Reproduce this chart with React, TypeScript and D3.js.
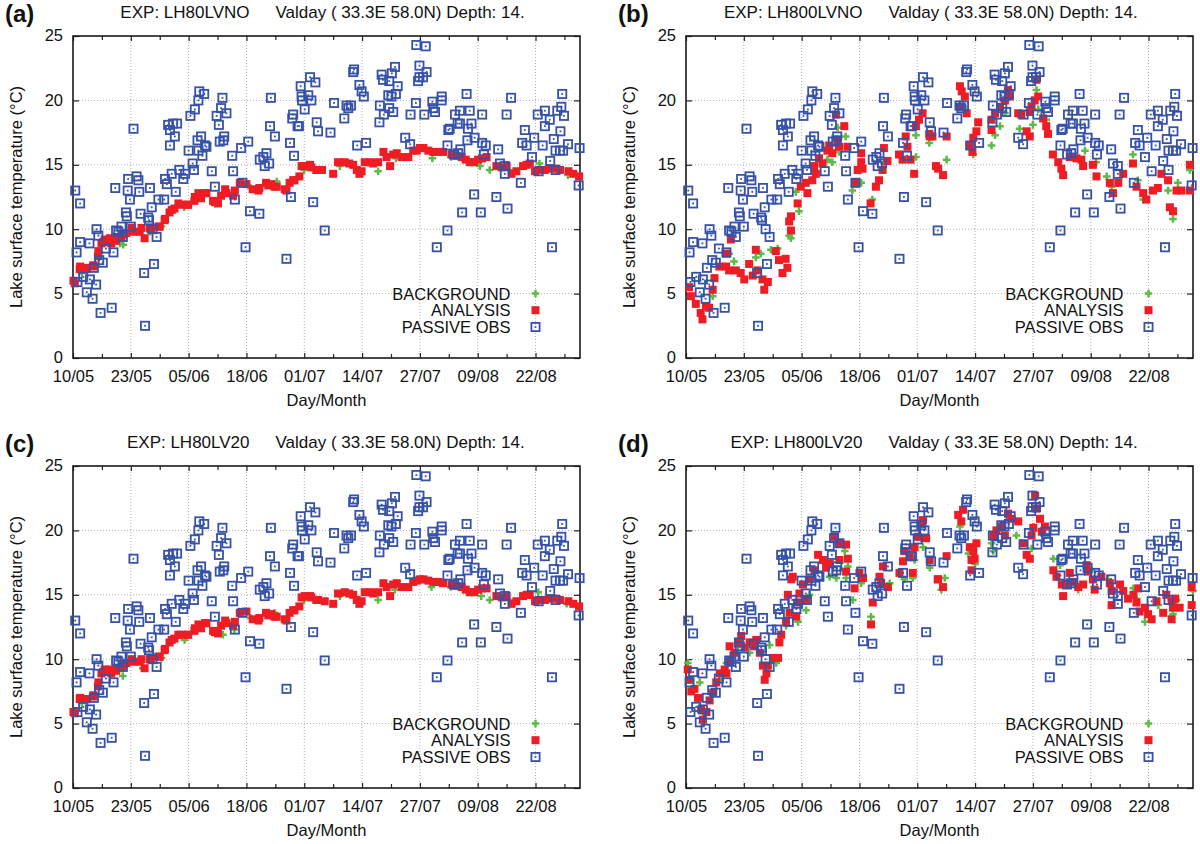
import { useEffect, useRef } from "react";
import * as d3 from "d3";

type T_Point = [number, number]; // [days after 10/05, lake surface temperature °C]

const xTickLabels = ["10/05", "23/05", "05/06", "18/06", "01/07", "14/07", "27/07", "09/08", "22/08"];
const xDomainLabels = ["10/05", "01/09"];
const yTicks = [0, 5, 10, 15, 20, 25];
const legendLabels = ["BACKGROUND", "ANALYSIS", "PASSIVE OBS"];

// passive observations (same in all four experiments)
const passiveObs: T_Point[] = [
  [0.5, 13.0], [1.6, 12.0], [13.6, 17.8], [0.8, 8.2], [1.6, 9.0], [3.7, 8.9], [5.3, 10.0], [5.7, 9.5],
  [1.0, 5.9], [2.3, 6.3], [3.8, 6.1], [5.2, 5.7], [3.1, 5.1], [4.4, 4.6], [6.2, 3.5], [8.7, 3.9],
  [4.7, 7.0], [5.9, 7.6], [6.7, 7.4], [7.4, 8.5], [9.1, 8.2], [9.7, 9.9], [10.2, 9.8], [10.9, 10.2],
  [11.2, 9.4], [13.0, 10.2], [16.0, 6.6], [18.2, 7.3], [16.2, 2.5], [17.9, 10.0], [18.8, 9.4], [17.1, 10.7],
  [16.9, 10.9], [15.2, 11.2], [11.9, 11.3], [12.1, 11.0], [9.5, 13.2], [12.3, 13.0], [12.8, 12.3], [12.4, 13.9],
  [14.3, 14.1], [14.7, 13.8], [14.9, 12.9], [17.3, 13.2], [17.7, 11.7], [19.2, 12.3], [20.5, 12.3], [20.7, 13.9],
  [21.1, 13.5], [22.2, 14.3], [23.1, 12.9], [23.9, 14.6], [25.2, 14.3], [24.8, 13.9], [21.8, 16.5], [22.9, 17.2],
  [21.8, 17.7], [21.4, 18.1], [22.5, 18.2], [23.4, 18.2], [26.0, 16.1], [26.9, 15.1], [27.2, 14.6], [26.4, 18.8],
  [27.4, 19.3], [28.2, 20.0], [28.4, 20.7], [28.0, 16.9], [28.2, 16.1],
  [29.5, 20.5], [33.6, 20.2], [33.3, 19.4], [34.5, 19.0], [32.3, 18.8], [32.8, 18.1], [34.0, 17.2], [33.8, 16.9],
  [33.0, 16.8], [28.8, 17.2], [29.7, 16.5], [30.0, 16.4], [29.1, 15.7], [31.2, 14.5], [31.9, 13.3], [36.0, 14.5],
  [35.8, 15.7], [37.8, 16.3], [39.4, 16.8], [44.5, 20.2], [44.3, 18.0], [45.4, 17.2], [42.0, 15.4], [42.8, 15.6],
  [43.5, 15.9], [43.1, 14.9], [44.1, 15.1], [38.1, 13.6], [36.4, 12.3], [39.8, 11.4], [41.9, 11.2], [38.8, 8.6],
  [48.0, 7.7], [49.0, 12.5], [54.0, 12.1], [56.6, 9.9], [48.8, 16.7], [49.7, 15.7], [49.5, 18.9], [49.3, 18.6],
  [50.5, 18.0], [50.8, 18.0], [51.4, 20.3], [52.1, 19.3], [51.5, 20.0], [52.9, 20.4], [53.6, 20.0], [53.3, 21.8],
  [54.5, 21.4], [51.2, 21.1], [54.8, 18.3], [55.1, 17.6],
  [77.2, 24.3], [79.3, 24.2], [77.9, 22.7], [79.5, 22.2], [77.9, 21.8], [78.7, 21.8], [77.6, 21.5], [63.0, 22.2],
  [63.2, 22.4], [64.4, 21.2], [64.9, 20.7], [65.4, 20.3], [69.4, 22.0], [71.7, 22.1], [72.4, 22.6], [69.7, 21.6],
  [71.1, 21.5], [73.0, 21.1], [70.9, 20.4], [71.6, 20.3], [72.6, 20.5], [58.7, 19.8], [61.5, 19.6], [61.9, 19.4],
  [62.5, 19.6], [61.0, 18.6], [57.9, 17.5], [69.0, 19.6], [71.1, 19.4], [72.0, 19.1], [69.9, 18.9], [68.9, 18.3],
  [75.9, 18.9], [77.1, 19.8], [79.0, 18.9], [80.8, 19.9], [81.0, 19.4], [81.4, 19.1], [82.9, 20.3], [82.9, 20.0],
  [63.9, 16.5], [65.9, 16.7], [74.7, 17.1], [75.8, 16.6], [84.2, 16.5], [84.4, 17.7], [84.2, 9.9], [81.8, 8.6],
  [88.5, 20.5], [87.0, 19.2], [85.9, 18.9], [89.2, 19.2], [92.0, 18.9], [97.5, 18.9], [98.5, 20.2], [87.0, 18.2],
  [86.5, 18.2], [89.6, 18.2], [84.7, 17.8], [88.8, 17.8], [88.7, 16.9], [90.3, 17.1], [92.0, 16.7], [92.8, 16.5],
  [87.1, 16.2], [85.7, 15.8], [86.6, 15.9], [92.4, 15.8], [95.6, 16.2], [96.0, 15.1], [97.1, 14.9], [97.1, 14.3],
  [100.7, 13.6], [90.2, 12.7], [95.2, 12.5], [97.7, 11.6], [87.5, 11.3], [91.7, 11.3], [104.5, 18.9], [106.1, 19.2],
  [107.2, 18.5], [106.1, 18.0], [101.6, 17.7], [101.0, 16.7], [102.0, 16.5], [103.7, 17.1], [105.6, 16.5], [103.2, 15.6],
  [108.9, 19.2], [109.8, 19.5], [110.4, 18.8], [110.0, 20.5], [109.6, 17.6], [108.1, 17.0], [108.5, 16.1], [109.5, 16.1],
  [110.2, 16.1], [111.3, 16.6], [113.9, 16.3], [107.3, 15.3], [104.7, 14.5], [108.5, 14.6], [113.7, 13.4], [107.7, 8.6],
];

// (a) LH80LVNO
const analysisA: T_Point[] = [
  [0.1, 6.0], [0.4, 5.8], [1.5, 6.9], [1.6, 7.1], [3.0, 6.9], [3.1, 7.0], [4.5, 7.1], [4.6, 7.2], [5.6, 7.9],
  [5.7, 8.3], [6.4, 8.9], [6.8, 9.0], [7.1, 9.2], [8.3, 9.3], [8.6, 8.9], [9.7, 9.1], [9.8, 9.4], [10.9, 9.4],
  [11.3, 9.6], [12.0, 9.7], [13.2, 10.1], [13.5, 9.8], [15.0, 9.8], [15.4, 10.1], [16.1, 9.3], [17.3, 10.1],
  [17.6, 10.0], [19.2, 10.2], [19.5, 10.2], [20.6, 10.7], [20.7, 10.8], [21.7, 11.3], [22.2, 11.5], [22.8, 11.6],
  [23.7, 12.0], [24.3, 11.9], [25.8, 11.9], [25.9, 11.9], [27.3, 12.2], [27.4, 12.5], [28.2, 12.8], [28.8, 12.4],
  [29.7, 12.8], [30.0, 12.8], [31.5, 12.2], [31.9, 12.1], [32.6, 12.0], [33.3, 12.6], [34.2, 13.1], [34.5, 12.8],
  [36.0, 12.6], [36.4, 13.0], [37.5, 13.6], [39.0, 13.5], [40.4, 13.1], [41.7, 13.0], [41.9, 13.2], [43.4, 13.6],
  [43.9, 13.4], [44.6, 13.5], [45.3, 13.3], [45.8, 13.3], [47.6, 13.1], [48.0, 13.0], [48.7, 13.6], [49.5, 13.8],
  [49.8, 13.8], [50.9, 14.1], [51.4, 14.9], [52.1, 14.9], [53.3, 15.0], [53.6, 14.8], [54.7, 14.6], [55.1, 14.6],
  [56.0, 14.6], [58.5, 14.3], [59.6, 15.2], [61.1, 15.2], [62.1, 15.1], [63.0, 15.0], [63.8, 14.6], [64.4, 14.3],
  [64.9, 14.5], [65.6, 15.2], [66.8, 15.2], [67.5, 15.1], [68.6, 15.2], [69.8, 16.0], [70.5, 15.6], [71.3, 14.9],
  [72.0, 15.8], [72.8, 15.9], [73.9, 15.6], [75.4, 15.6], [76.5, 16.1], [77.3, 16.1], [78.0, 16.3], [78.8, 16.3],
  [79.9, 16.1], [81.0, 16.0], [82.1, 16.0], [83.2, 16.0], [85.1, 15.8], [86.2, 15.7], [87.4, 15.6], [88.3, 15.4],
  [89.2, 15.2], [90.2, 15.2], [91.1, 15.4], [92.0, 15.5], [93.0, 15.6], [95.2, 14.9], [96.4, 14.8], [97.5, 14.9],
  [98.6, 14.3], [99.7, 14.5], [101.2, 14.9], [102.0, 15.0], [102.7, 15.1], [103.9, 14.5], [105.0, 14.6], [106.1, 14.6],
  [107.2, 14.7], [108.4, 14.7], [109.5, 14.6], [111.4, 14.5], [112.5, 14.3], [113.8, 14.1],
];
const backgroundA: T_Point[] = [
  [2.0, 6.6], [6.0, 8.2], [10.6, 8.9], [11.3, 8.8], [17.3, 9.8], [19.9, 10.2], [25.0, 11.7], [33.0, 12.4],
  [40.0, 13.2], [45.8, 13.7], [52.0, 14.6], [60.0, 14.9], [68.6, 14.5], [72.6, 15.5], [80.8, 15.5], [85.0, 15.6],
  [91.5, 14.9], [93.7, 14.6], [98.0, 14.6], [104.9, 15.1], [111.3, 14.2],
];

// (b) LH800LVNO
const analysisB: T_Point[] = [
  [0.7, 5.5], [1.1, 4.8], [2.2, 4.2], [3.3, 3.5], [3.7, 3.0], [4.5, 4.0], [5.2, 3.9], [6.0, 5.3], [6.4, 6.2],
  [7.5, 7.1], [9.0, 7.1], [9.0, 8.1], [10.1, 9.2], [9.7, 6.8], [11.2, 6.8], [12.3, 6.6], [13.1, 6.1], [14.2, 7.3],
  [15.0, 6.4], [15.7, 8.4], [16.1, 6.8], [17.2, 6.1], [17.6, 5.3], [18.4, 5.9], [20.2, 8.3], [20.9, 7.6],
  [21.7, 6.6], [22.4, 7.7], [22.8, 7.0], [23.2, 10.6], [23.6, 9.9], [23.6, 11.0], [25.1, 12.0], [25.8, 13.3],
  [26.9, 13.6], [27.3, 12.8], [28.4, 13.8], [29.2, 14.3], [28.8, 14.9], [29.9, 15.5], [30.7, 15.1], [31.8, 16.1],
  [32.2, 16.5], [32.9, 15.9], [34.1, 16.9], [34.4, 16.4], [33.7, 18.9], [35.6, 18.0], [36.3, 16.4], [38.2, 13.6],
  [38.6, 14.6], [39.4, 15.2], [39.4, 15.9], [39.7, 14.7], [41.5, 12.0], [42.7, 13.3], [43.4, 13.8], [44.2, 14.6],
  [44.5, 16.3], [45.3, 15.3], [47.9, 15.8], [48.7, 15.4], [49.4, 17.2], [49.8, 16.4], [50.5, 15.4], [51.3, 14.3],
  [51.7, 18.0], [52.4, 18.5], [53.2, 19.0], [54.7, 17.4], [55.4, 17.2], [56.2, 14.9],
  [54.8, 17.2], [58.6, 17.2], [56.7, 14.7], [57.8, 14.2], [61.6, 21.1], [62.0, 20.7], [62.7, 20.3], [61.6, 19.5],
  [63.1, 19.0], [65.7, 18.3], [65.3, 17.6], [64.6, 17.1], [63.8, 16.5], [64.4, 16.0], [68.7, 18.5], [68.7, 17.7],
  [69.5, 19.0], [70.6, 19.5], [71.7, 20.0], [72.4, 20.8], [72.8, 20.3], [74.7, 19.0], [75.4, 18.9], [76.6, 17.6],
  [77.3, 17.2], [77.3, 19.1], [77.7, 19.5], [78.4, 20.0], [79.2, 20.3], [78.8, 21.6], [80.3, 18.6], [81.0, 18.0],
  [81.4, 17.4], [82.5, 15.8], [83.7, 15.2], [84.4, 14.7], [84.8, 14.2], [86.3, 15.6], [87.8, 15.5], [88.9, 15.4],
  [89.3, 14.9], [91.5, 15.0], [92.3, 14.1], [95.3, 13.6], [96.0, 12.8], [97.2, 13.6], [98.3, 14.3], [100.5, 15.1],
  [101.3, 13.3], [102.8, 12.8], [103.5, 12.3], [105.0, 13.0], [106.1, 13.2], [106.9, 14.3], [108.4, 13.8],
  [108.8, 11.7], [109.5, 11.4], [110.3, 13.0], [111.4, 13.0], [113.3, 15.0], [113.3, 13.0],
];
const backgroundB: T_Point[] = [
  [6.0, 4.8], [9.7, 8.1], [10.8, 7.5], [15.7, 7.8], [16.8, 8.1], [19.1, 8.4], [20.6, 8.5], [23.2, 9.5],
  [23.6, 9.3], [24.7, 12.9], [25.4, 11.4], [31.8, 15.4], [32.9, 15.2], [34.1, 17.9], [34.4, 16.0], [35.9, 17.2],
  [37.4, 13.0], [39.4, 13.6], [41.9, 12.3], [44.5, 15.1], [51.7, 15.6], [51.7, 17.3], [54.7, 16.7],
  [58.6, 15.4], [62.3, 19.5], [64.6, 15.8], [68.7, 16.5], [69.5, 17.3], [70.6, 18.0], [71.7, 19.0], [75.0, 17.8],
  [78.0, 18.1], [78.8, 20.8], [79.2, 19.3], [81.0, 18.5], [89.7, 16.1], [92.2, 15.2], [94.6, 14.1], [95.7, 13.3],
  [100.5, 15.8], [101.6, 13.8], [102.8, 12.3], [108.4, 13.0], [109.5, 10.8], [110.6, 13.6], [113.3, 14.6],
];

// (c) LH80LV20
const analysisC: T_Point[] = [
  [0.1, 5.9], [0.4, 5.8], [1.5, 6.9], [1.6, 7.0], [3.0, 6.9], [3.1, 6.9], [4.5, 7.1], [4.6, 7.2], [5.6, 7.9],
  [5.7, 8.2], [6.4, 8.9], [6.8, 9.0], [7.1, 9.2], [8.3, 9.2], [8.6, 8.9], [9.7, 9.1], [9.8, 9.3], [10.9, 9.4],
  [11.3, 9.5], [12.0, 9.7], [13.2, 10.0], [13.5, 9.8], [15.0, 9.8], [15.4, 10.0], [16.1, 9.3], [17.3, 10.0],
  [17.6, 10.0], [19.2, 10.2], [19.5, 10.2], [20.6, 10.7], [20.7, 10.8], [21.7, 11.3], [22.2, 11.5], [22.8, 11.6],
  [23.7, 11.9], [24.3, 11.9], [25.8, 11.9], [25.9, 11.9], [27.3, 12.2], [27.4, 12.4], [28.2, 12.7], [28.8, 12.4],
  [29.7, 12.8], [30.0, 12.8], [31.5, 12.2], [31.9, 12.1], [32.6, 12.0], [33.3, 12.6], [34.2, 13.0], [34.5, 12.8],
  [36.0, 12.6], [36.4, 12.9], [37.5, 13.6], [39.0, 13.7], [40.4, 13.1], [41.7, 13.0], [41.9, 13.2], [43.4, 13.6],
  [43.9, 13.4], [44.6, 13.5], [45.3, 13.3], [45.8, 13.3], [47.6, 13.1], [48.0, 13.0], [48.7, 13.6], [49.5, 13.8],
  [49.8, 13.8], [50.9, 14.1], [51.4, 14.8], [52.1, 14.9], [53.3, 14.9], [53.6, 14.8], [54.7, 14.6], [55.1, 14.6],
  [56.6, 14.5], [58.5, 14.3], [59.6, 15.1], [61.1, 15.2], [62.1, 15.1], [63.0, 15.0], [63.8, 14.6], [64.4, 14.3],
  [64.9, 14.5], [65.6, 15.2], [66.8, 15.2], [67.5, 15.1], [68.6, 15.2], [69.8, 15.9], [70.5, 15.6], [71.3, 14.9],
  [72.0, 15.8], [72.8, 15.9], [73.9, 15.6], [75.4, 15.6], [76.5, 16.0], [77.3, 16.1], [78.0, 16.2], [78.8, 16.2],
  [79.9, 16.1], [81.0, 16.0], [82.1, 16.0], [83.2, 15.9], [85.1, 15.8], [86.2, 15.7], [87.4, 15.6], [88.3, 15.4],
  [89.2, 15.2], [90.2, 15.2], [91.1, 15.4], [92.0, 15.5], [93.0, 15.5], [95.2, 14.9], [96.4, 14.8], [97.5, 14.9],
  [98.6, 14.3], [99.7, 14.5], [101.2, 14.9], [102.0, 15.0], [102.7, 15.0], [103.9, 14.5], [105.0, 14.6], [106.1, 14.6],
  [107.2, 14.7], [108.4, 14.7], [109.5, 14.6], [111.4, 14.5], [112.5, 14.3], [113.8, 14.1],
];
const backgroundC: T_Point[] = [
  [2.0, 6.6], [6.0, 8.2], [11.2, 8.7], [15.7, 9.3], [19.9, 10.1], [25.1, 11.5], [33.7, 11.9], [36.3, 12.3],
  [40.0, 13.2], [45.3, 13.6], [52.0, 14.6], [60.0, 14.9], [68.6, 14.6], [72.4, 15.4], [80.6, 15.6], [85.0, 15.6],
  [91.8, 14.9], [93.7, 14.6], [98.0, 14.6], [104.6, 15.2], [111.0, 14.3],
];

// (d) LH800LV20
const analysisD: T_Point[] = [
  [0.4, 9.2], [0.8, 8.4], [1.2, 7.5], [1.9, 7.7], [2.7, 7.0], [3.4, 6.1], [3.8, 5.3], [4.6, 5.9], [5.3, 6.8],
  [6.1, 7.4], [6.8, 8.2], [7.6, 8.9], [8.7, 9.2], [9.1, 8.9], [9.8, 11.0], [9.8, 9.8], [10.9, 10.5], [11.7, 11.3],
  [12.4, 11.8], [13.2, 10.9], [14.3, 11.3], [15.4, 11.0], [15.8, 11.5], [16.6, 10.5], [17.3, 9.5], [17.7, 8.4],
  [18.1, 8.9], [18.4, 9.5], [19.6, 10.1], [20.7, 10.1], [21.0, 11.3], [21.4, 11.9], [22.5, 12.9], [23.3, 13.6],
  [22.9, 15.0], [23.7, 16.2], [24.0, 16.4], [24.8, 13.3], [25.2, 14.4], [25.5, 15.1], [26.3, 15.8], [27.0, 14.6],
  [27.8, 16.2], [28.9, 16.9], [29.7, 18.1], [30.8, 17.7], [31.5, 17.1], [32.3, 17.4], [33.4, 19.5], [34.5, 17.7],
  [34.5, 19.0], [36.0, 18.9], [36.4, 17.8], [36.0, 16.8], [37.9, 15.5], [39.0, 16.7], [39.8, 16.3], [42.0, 14.4],
  [41.6, 12.7], [43.5, 16.4], [43.9, 15.9], [44.3, 17.2], [45.4, 15.6], [48.0, 16.7], [48.8, 17.6], [49.1, 18.4],
  [50.3, 18.0], [51.0, 16.7], [51.4, 18.7], [52.1, 19.5], [52.9, 20.5], [53.3, 20.8], [53.6, 19.4], [54.0, 19.4],
  [54.8, 17.7], [56.6, 16.2], [57.8, 15.6],
  [56.7, 16.2], [58.6, 18.0], [61.2, 21.2], [62.3, 21.6], [61.9, 20.7], [63.8, 18.7], [64.6, 18.4],
  [65.3, 19.0], [64.2, 17.7], [64.9, 17.8], [64.2, 16.9], [69.1, 19.6], [69.8, 20.0], [70.9, 20.3], [71.7, 19.6],
  [72.4, 21.3], [73.2, 20.9], [74.7, 20.7], [75.8, 19.0], [76.6, 18.1], [77.3, 17.8], [77.7, 19.6], [78.1, 20.2],
  [78.5, 22.7], [78.8, 21.7], [79.6, 20.9], [80.0, 19.9], [80.7, 20.3], [82.6, 16.9], [83.3, 16.4], [84.5, 15.8],
  [84.8, 14.9], [85.5, 15.8], [86.3, 16.7], [87.0, 16.0], [88.2, 15.6], [89.3, 15.8], [90.1, 17.3], [90.4, 16.8],
  [91.5, 16.2], [91.9, 15.4], [93.4, 16.4], [95.3, 15.9], [95.7, 15.3], [95.7, 14.2], [97.6, 15.8], [98.3, 15.3],
  [99.4, 14.7], [100.6, 15.0], [101.7, 15.5], [101.3, 14.4], [102.0, 13.7], [103.2, 14.0], [103.9, 13.5],
  [104.7, 13.1], [105.8, 14.5], [107.3, 13.6], [108.0, 15.0], [109.2, 14.5], [109.5, 14.0], [110.0, 14.7],
  [111.0, 14.0], [109.2, 13.1], [113.7, 15.6], [113.7, 14.2],
];
const backgroundD: T_Point[] = [
  [0.4, 9.7], [3.1, 8.2], [7.6, 8.4], [9.1, 9.7], [11.7, 11.0], [14.3, 10.5], [18.8, 11.1], [20.3, 9.7],
  [22.5, 12.6], [25.2, 12.9], [27.0, 13.8], [27.8, 15.0], [32.3, 16.4], [33.8, 16.3], [35.7, 18.4], [36.4, 17.2],
  [36.0, 16.3], [37.5, 14.6], [39.4, 15.9], [41.6, 13.3], [45.8, 15.9], [49.1, 16.2], [51.0, 16.3], [51.4, 17.7],
  [53.3, 18.7], [54.8, 17.1], [57.4, 15.4],
  [58.2, 16.3], [61.6, 20.3], [63.5, 18.2], [65.0, 17.4], [68.7, 19.0], [69.1, 18.4], [74.3, 19.6], [77.7, 18.6],
  [78.1, 20.3], [82.6, 17.8], [84.1, 17.3], [88.2, 15.4], [91.2, 16.9], [94.9, 16.2], [100.6, 15.5], [101.3, 14.7],
  [103.2, 12.9], [106.2, 14.2], [109.5, 13.5], [110.3, 14.6], [114.0, 15.3],
];

const panels = [
  { tag: "(a)", exp: "LH80LVNO", analysis: analysisA, background: backgroundA, left: 73, top: 36 },
  { tag: "(b)", exp: "LH800LVNO", analysis: analysisB, background: backgroundB, left: 686, top: 36 },
  { tag: "(c)", exp: "LH80LV20", analysis: analysisC, background: backgroundC, left: 73, top: 466 },
  { tag: "(d)", exp: "LH800LV20", analysis: analysisD, background: backgroundD, left: 686, top: 466 },
];

const W = 507;
const H = 322;
const FONT = "'Liberation Sans', Arial, Helvetica, sans-serif";
const C_OBS = "#3652a8";
const C_ANA = "#ee1c24";
const C_BG = "#5dba47";
const DAY = 864e5;

const parseDM = d3.utcParse("%d/%m");
const start = parseDM(xDomainLabels[0]) as Date;
const end = parseDM(xDomainLabels[1]) as Date;
const toDate = (d: number) => new Date(start.getTime() + d * DAY);

type T_Sel = d3.Selection<SVGGElement, unknown, null, undefined>;

function drawBackground(g: T_Sel, cx: number, cy: number) {
  g.append("path")
    .attr("d", `M${cx - 3.8},${cy}H${cx + 3.8}M${cx},${cy - 3.8}V${cy + 3.8}`)
    .attr("stroke", C_BG)
    .attr("stroke-width", 2.5)
    .attr("fill", "none");
}
function drawAnalysis(g: T_Sel, cx: number, cy: number) {
  g.append("rect").attr("x", cx - 4).attr("y", cy - 4).attr("width", 8).attr("height", 8).attr("fill", C_ANA);
}
function drawObs(g: T_Sel, cx: number, cy: number) {
  g.append("rect")
    .attr("x", cx - 4.1).attr("y", cy - 4.1).attr("width", 8.2).attr("height", 8.2)
    .attr("fill", "none").attr("stroke", C_OBS).attr("stroke-width", 1.8);
  g.append("rect").attr("x", cx - 0.9).attr("y", cy - 0.9).attr("width", 1.8).attr("height", 1.8).attr("fill", C_OBS);
}

function drawPanel(svg: d3.Selection<SVGSVGElement, unknown, null, undefined>, p: (typeof panels)[number]) {
  const x = d3.scaleUtc().domain([start, end]).range([0, W]);
  const y = d3.scaleLinear().domain([yTicks[0], yTicks[yTicks.length - 1]]).range([H, 0]);

  const g = svg
    .append("g")
    .attr("transform", `translate(${p.left},${p.top})`)
    .style("font-family", FONT) as T_Sel;

  const majors = xTickLabels.map((l) => parseDM(l) as Date);
  const minors = majors.map((d) => new Date(d.getTime() + 6.5 * DAY)).filter((d) => d < end);

  // grid
  const grid = g.append("g").attr("stroke", "#b0b0b0").attr("stroke-width", 1).attr("stroke-dasharray", "1,2");
  majors.slice(1).forEach((d) => {
    grid.append("line").attr("x1", x(d)).attr("x2", x(d)).attr("y1", 0).attr("y2", H);
  });
  yTicks.slice(1, -1).forEach((v) => {
    grid.append("line").attr("x1", 0).attr("x2", W).attr("y1", y(v)).attr("y2", y(v));
  });

  // axes (gnuplot style: inward, mirrored)
  const fmt = d3.utcFormat("%d/%m");
  const bottom = g
    .append("g")
    .attr("transform", `translate(0,${H})`)
    .call(d3.axisBottom(x).tickValues(majors).tickSizeInner(-5).tickSizeOuter(0).tickPadding(12).tickFormat((d) => fmt(d as Date)));
  g.append("g").attr("transform", `translate(0,${H})`)
    .call(d3.axisBottom(x).tickValues(minors).tickSizeInner(-4).tickSizeOuter(0).tickFormat(() => ""));
  g.append("g").call(d3.axisTop(x).tickValues(majors).tickSizeInner(-5).tickSizeOuter(0).tickFormat(() => ""));
  g.append("g").call(d3.axisTop(x).tickValues(minors).tickSizeInner(-4).tickSizeOuter(0).tickFormat(() => ""));
  const left = g.append("g").call(d3.axisLeft(y).tickValues(yTicks).tickSizeInner(-6).tickSizeOuter(0).tickPadding(10));
  g.append("g").attr("transform", `translate(${W},0)`)
    .call(d3.axisRight(y).tickValues(yTicks).tickSizeInner(-6).tickSizeOuter(0).tickFormat(() => ""));

  g.selectAll(".domain").remove();
  g.selectAll(".tick line").attr("stroke", "#222").attr("stroke-width", 1.2);
  bottom.selectAll("text").attr("font-size", 16.5).attr("fill", "#111").style("font-family", FONT);
  left.selectAll("text").attr("font-size", 16.5).attr("dy", "0.3em").attr("fill", "#111").style("font-family", FONT);

  // frame
  g.append("rect").attr("width", W).attr("height", H).attr("fill", "none").attr("stroke", "#1a1a1a").attr("stroke-width", 1.6);

  // labels
  g.append("text").attr("x", W / 2).attr("y", H + 48).attr("text-anchor", "middle")
    .attr("font-size", 16.5).attr("fill", "#111").text("Day/Month");
  g.append("text").attr("transform", `translate(-51.5,${H / 2}) rotate(-90)`).attr("text-anchor", "middle")
    .attr("font-size", 16.5).attr("fill", "#111").text("Lake surface temperature (°C)");
  g.append("text").attr("x", W / 2 - 77).attr("y", -18.5).attr("text-anchor", "end")
    .attr("font-size", 17).attr("fill", "#111").text(`EXP: ${p.exp}`);
  g.append("text").attr("x", W / 2 - 51).attr("y", -18.5)
    .attr("font-size", 17).attr("fill", "#111").text("Valday ( 33.3E 58.0N) Depth: 14.");
  g.append("text").attr("x", -68).attr("y", -14).attr("font-size", 24).attr("font-weight", "bold")
    .attr("fill", "#111").text(p.tag);

  // points: background, analysis, passive obs
  const gb = g.append("g") as T_Sel;
  p.background.forEach(([d, t]) => drawBackground(gb, x(toDate(d)), y(t)));
  const ga = g.append("g") as T_Sel;
  p.analysis.forEach(([d, t]) => drawAnalysis(ga, x(toDate(d)), y(t)));
  const go = g.append("g") as T_Sel;
  passiveObs.forEach(([d, t]) => drawObs(go, x(toDate(d)), y(t)));

  // legend
  const lg = g.append("g") as T_Sel;
  const rowY = [H - 64.5, H - 47.8, H - 31];
  const drawers = [drawBackground, drawAnalysis, drawObs];
  legendLabels.forEach((label, i) => {
    lg.append("text").attr("x", W - 69.5).attr("y", rowY[i] + 6).attr("text-anchor", "end")
      .attr("font-size", 16.5).attr("fill", "#111").text(label);
    drawers[i](lg, W - 44.5, rowY[i]);
  });
}

export default function App() {
  const svgRef = useRef<SVGSVGElement>(null);

  useEffect(() => {
    if (!svgRef.current) return;
    const svg = d3.select(svgRef.current);
    svg.selectAll("*").remove();
    panels.forEach((p) => drawPanel(svg, p));
  }, []);

  return (
    <svg
      ref={svgRef}
      width={1200}
      height={844}
      style={{ position: "absolute", left: 0, top: 0, background: "#fff" }}
    />
  );
}
